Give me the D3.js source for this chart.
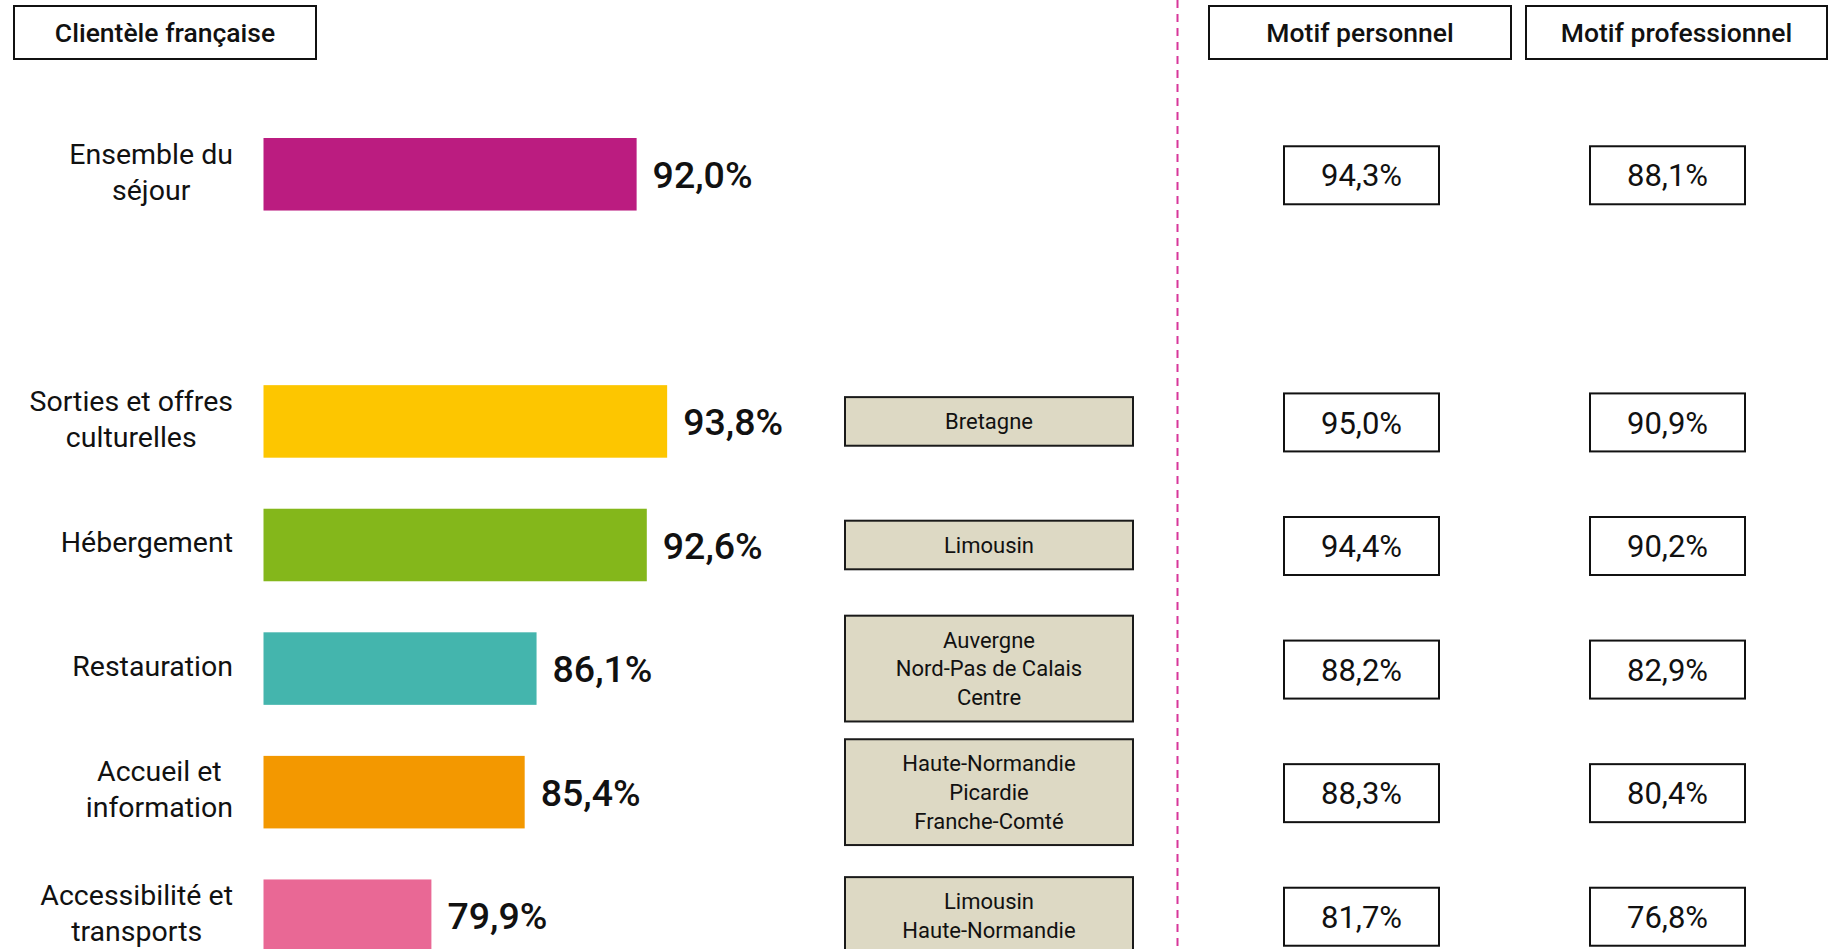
<!DOCTYPE html>
<html>
<head>
<meta charset="utf-8">
<script src="https://cdn.jsdelivr.net/npm/d3@7"></script>
<style>
  body { margin: 0; background: #fff; }
  svg { display: block; font-family: Roboto, "Liberation Sans", sans-serif; }
</style>
</head>
<body>
<div id="chart"></div>
<script>
// satisfaction by item, clientele francaise
const categories = ['Ensemble du\nséjour', 'Sorties et offres\nculturelles', 'Hébergement', 'Restauration', 'Accueil et\ninformation', 'Accessibilité et\ntransports'];
const values = [92.0, 93.8, 92.6, 86.1, 85.4, 79.9];
const colors = ['#bb1c80', '#fdc600', '#84b71b', '#44b5ad', '#f39800', '#e96895'];
const regions = [[], ['Bretagne'], ['Limousin'], ['Auvergne', 'Nord-Pas de Calais', 'Centre'], ['Haute-Normandie', 'Picardie', 'Franche-Comté'], ['Limousin', 'Haute-Normandie']];
const motifPerso = [94.3, 95.0, 94.4, 88.2, 88.3, 81.7];
const motifPro = [88.1, 90.9, 90.2, 82.9, 80.4, 76.8];
const headers = ['Clientèle française', 'Motif personnel', 'Motif professionnel'];

const width = 1828, height = 949;
const fr = d3.formatLocale({decimal: ',', thousands: ' ', grouping: [3], currency: ['', ' €']});
const pct = v => fr.format('.1f')(v) + '%';

const svg = d3.select('#chart').append('svg')
  .attr('width', width)
  .attr('height', height);

// empty slot after the first row
const rows = categories.map((c, i) => ({
  cat: c, value: values[i], color: colors[i], regions: regions[i],
  perso: motifPerso[i], pro: motifPro[i], key: 'r' + i
}));
const slots = [rows[0].key, 'gap'].concat(rows.slice(1).map(d => d.key));

const y = d3.scaleBand().domain(slots).range([138, 952]).paddingInner(0.413).paddingOuter(0);
const x = d3.scaleLinear().domain([70, 100]).range([263.5, 772.3]);
const cy = d => y(d.key) + y.bandwidth() / 2;

// dashed separator
svg.append('line')
  .attr('x1', 1177.5).attr('x2', 1177.5)
  .attr('y1', 0).attr('y2', height)
  .attr('stroke', '#d8379a')
  .attr('stroke-width', 2)
  .attr('stroke-dasharray', '8,6');

// header boxes
const headBoxes = [
  {text: headers[0], x0: 14, x1: 316},
  {text: headers[1], x0: 1209, x1: 1511},
  {text: headers[2], x0: 1526, x1: 1827}
];
const hb = svg.append('g').selectAll('g').data(headBoxes).join('g');
hb.append('rect')
  .attr('x', d => d.x0).attr('y', 6)
  .attr('width', d => d.x1 - d.x0).attr('height', 53)
  .attr('fill', '#fff').attr('stroke', '#111').attr('stroke-width', 2);
hb.append('text')
  .attr('x', d => (d.x0 + d.x1) / 2).attr('y', 32.5)
  .attr('dy', '0.35em')
  .attr('text-anchor', 'middle')
  .attr('font-size', 26.5).attr('font-weight', 500)
  .attr('fill', '#111')
  .text(d => d.text);

// bars
const g = svg.append('g').selectAll('g').data(rows).join('g');
g.append('rect')
  .attr('x', x(70))
  .attr('y', d => y(d.key))
  .attr('width', d => x(d.value) - x(70))
  .attr('height', y.bandwidth())
  .attr('fill', d => d.color);

g.append('text')
  .attr('x', d => x(d.value) + 16)
  .attr('y', cy)
  .attr('dy', '0.36em')
  .attr('font-size', 37.5).attr('font-weight', 500)
  .attr('fill', '#111')
  .text(d => pct(d.value));

// category labels: lines centred on each other, block right-aligned at 233
const lab = g.append('text')
  .attr('text-anchor', 'middle')
  .attr('font-size', 28.5)
  .attr('fill', '#111');
lab.each(function(d) {
  const lines = d.cat.split('\n');
  const t = d3.select(this);
  const spans = lines.map((l, i) => t.append('tspan')
      .attr('y', cy(d) + (i - (lines.length - 1) / 2) * 36 - 3)
      .attr('dy', '0.36em')
      .text(l));
  const maxW = d3.max(spans, s => s.node().getComputedTextLength());
  spans.forEach(s => s.attr('x', 233 - maxW / 2));
});

// regions boxes
const lineH = 28.6;
const rg = g.filter(d => d.regions.length > 0);
rg.append('rect')
  .attr('x', 845).attr('width', 288)
  .attr('y', d => cy(d) - (20 + lineH * d.regions.length) / 2)
  .attr('height', d => 20 + lineH * d.regions.length)
  .attr('fill', '#ddd9c4').attr('stroke', '#1a1a1a').attr('stroke-width', 2);
rg.append('text')
  .attr('text-anchor', 'middle')
  .attr('font-size', 22)
  .attr('fill', '#111')
  .each(function(d) {
    const t = d3.select(this);
    d.regions.forEach((r, i) => {
      t.append('tspan')
        .attr('x', 989)
        .attr('y', cy(d) + (i - (d.regions.length - 1) / 2) * lineH)
        .attr('dy', '0.36em')
        .text(r);
    });
  });

// motif boxes
const motifCols = [{k: 'perso', cx: 1361.5}, {k: 'pro', cx: 1667.5}];
motifCols.forEach(col => {
  g.append('rect')
    .attr('x', col.cx - 77.5).attr('width', 155)
    .attr('y', d => cy(d) - 28).attr('height', 58)
    .attr('fill', '#fff').attr('stroke', '#111').attr('stroke-width', 2);
  g.append('text')
    .attr('x', col.cx)
    .attr('y', d => cy(d) + 1)
    .attr('dy', '0.36em')
    .attr('text-anchor', 'middle')
    .attr('font-size', 31)
    .attr('fill', '#111')
    .text(d => pct(d[col.k]));
});
</script>
</body>
</html>
